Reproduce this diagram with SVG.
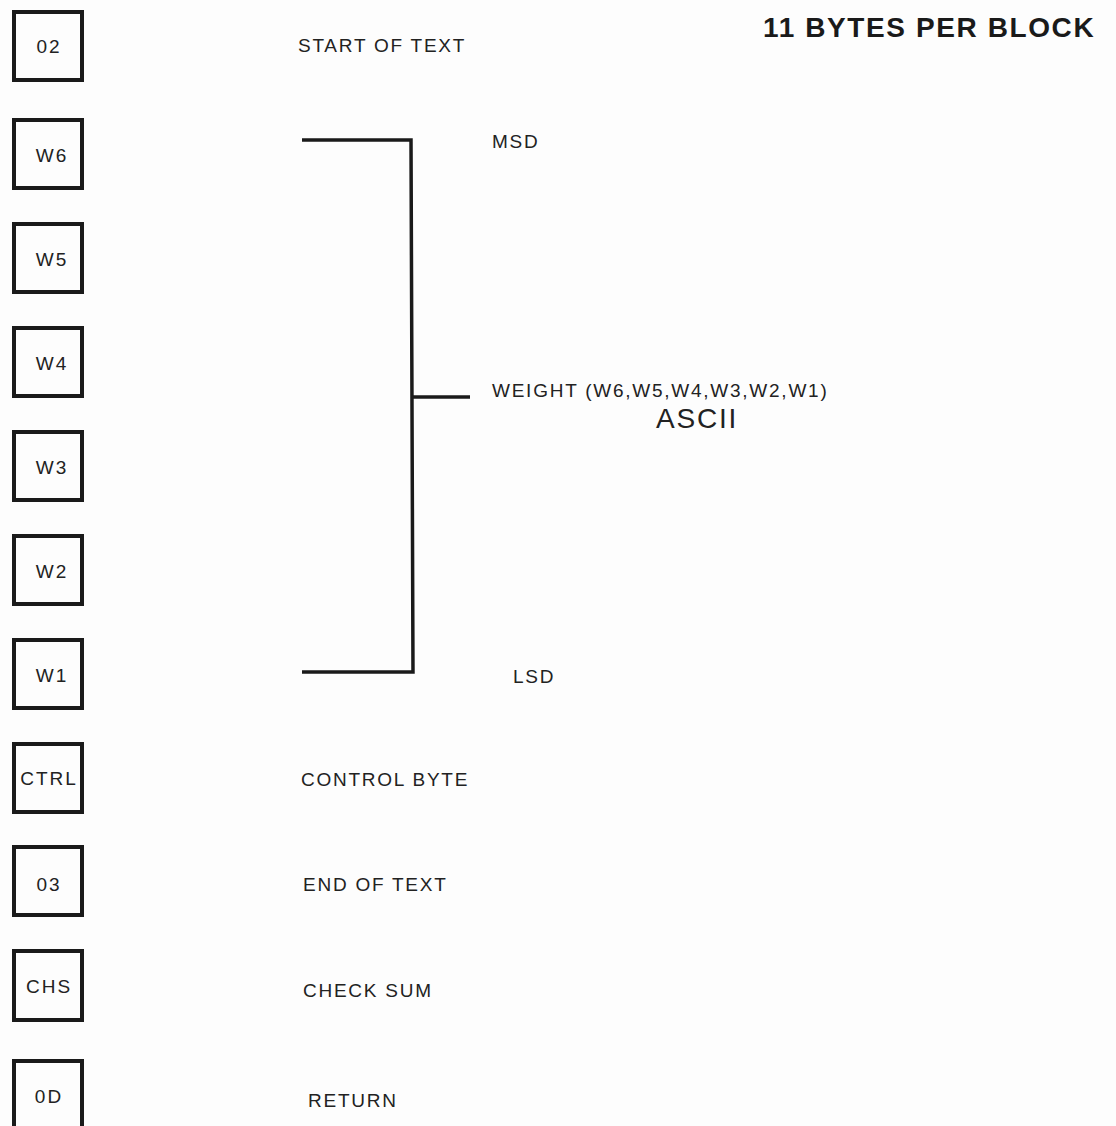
<svg xmlns="http://www.w3.org/2000/svg" width="1116" height="1126" viewBox="0 0 1116 1126">
<style>
.box{fill:none;stroke:#1a1a1a;stroke-width:4}
.bt{font-family:"Liberation Sans",Arial,sans-serif;font-size:19px;fill:#222;text-anchor:middle;letter-spacing:2px}
.lb{font-family:"Liberation Sans",Arial,sans-serif;font-size:19px;fill:#222;letter-spacing:1.75px}
.ln{fill:none;stroke:#1a1a1a;stroke-width:3.5}
</style>
<rect width="1116" height="1126" fill="#fdfdfd"/>
<text x="763" y="37" font-family="Liberation Sans,Arial,sans-serif" font-size="28" font-weight="bold" fill="#1a1a1a" letter-spacing="1.6">11 BYTES PER BLOCK</text>
<g id="n02"><rect class="box" x="14" y="12" width="68" height="68"/><text class="bt" x="49" y="53">02</text></g>
<g id="nW6"><rect class="box" x="14" y="120" width="68" height="68"/><text class="bt" x="52" y="162">W6</text></g>
<g id="nW5"><rect class="box" x="14" y="224" width="68" height="68"/><text class="bt" x="52" y="266">W5</text></g>
<g id="nW4"><rect class="box" x="14" y="328" width="68" height="68"/><text class="bt" x="52" y="370">W4</text></g>
<g id="nW3"><rect class="box" x="14" y="432" width="68" height="68"/><text class="bt" x="52" y="474">W3</text></g>
<g id="nW2"><rect class="box" x="14" y="536" width="68" height="68"/><text class="bt" x="52" y="578">W2</text></g>
<g id="nW1"><rect class="box" x="14" y="640" width="68" height="68"/><text class="bt" x="52" y="682">W1</text></g>
<g id="nCTRL"><rect class="box" x="14" y="744" width="68" height="68"/><text class="bt" x="49" y="785">CTRL</text></g>
<g id="n03"><rect class="box" x="14" y="847" width="68" height="68"/><text class="bt" x="49" y="891">03</text></g>
<g id="nCHS"><rect class="box" x="14" y="951" width="68" height="69"/><text class="bt" x="49" y="993">CHS</text></g>
<g id="n0D"><rect class="box" x="14" y="1061" width="68" height="70"/><text class="bt" x="49" y="1103">0D</text></g>
<g id="labels">
<text class="lb" x="298" y="52">START OF TEXT</text>
<text class="lb" x="492" y="148">MSD</text>
<text class="lb" x="492" y="397">WEIGHT (W6,W5,W4,W3,W2,W1)</text>
<text x="656" y="428" font-family="Liberation Sans,Arial,sans-serif" font-size="28" fill="#222" letter-spacing="1.8">ASCII</text>
<text class="lb" x="513" y="683">LSD</text>
<text class="lb" x="301" y="786">CONTROL BYTE</text>
<text class="lb" x="303" y="891">END OF TEXT</text>
<text class="lb" x="303" y="997">CHECK SUM</text>
<text class="lb" x="308" y="1107">RETURN</text>
</g>
<g id="connectors">
<path class="ln" d="M302 140 H411 L413 672 H302"/>
<path class="ln" d="M412 397 H470"/>
</g>
</svg>
